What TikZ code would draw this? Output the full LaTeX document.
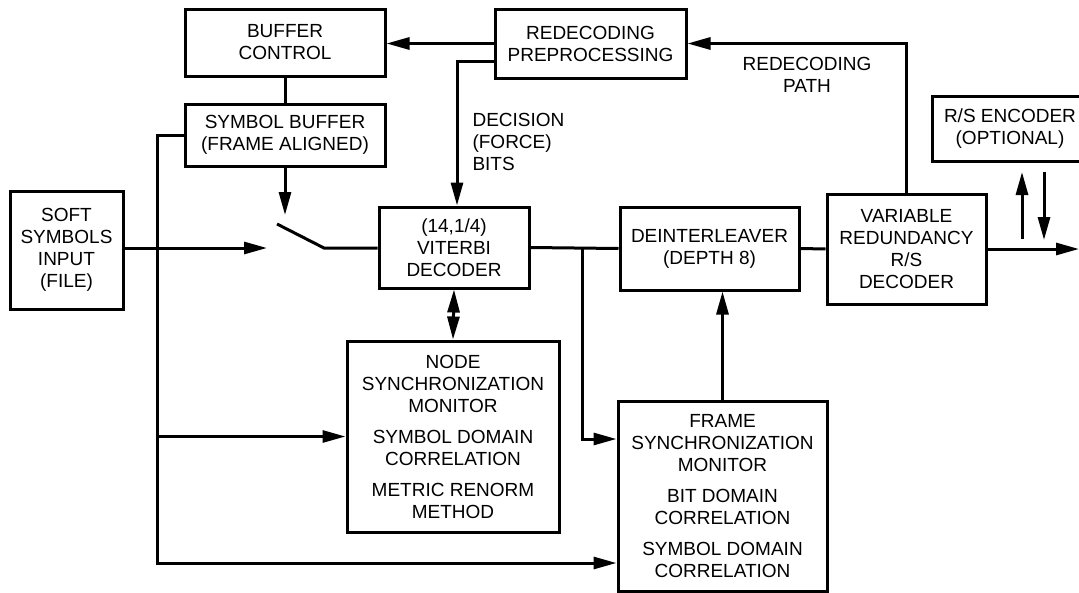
\documentclass[tikz,border=0pt]{standalone}
\usepackage{fontspec}
\setmainfont{Liberation Sans}
\usepackage{tikz}
\usetikzlibrary{calc,arrows.meta}
\newcommand{\labelsize}{\fontsize{19}{22}\selectfont}
\newcommand{\makeblock}[6]{
	\node[block, minimum width=#4pt, minimum height=#5pt] (#1) at (#2,#3) {#6};
}
\tikzset{
	block/.style={draw, line width=3pt, rectangle, align=center, inner sep=0pt, font=\labelsize},
	wire/.style={line width=3pt},
	arr/.style={wire, -{Triangle[length=23pt,width=12pt]}},
	dblarr/.style={wire, {Triangle[length=23pt,width=12pt]}-{Triangle[length=23pt,width=12pt]}}
}

\begin{document}
\begin{tikzpicture}[x=1pt,y=-1pt]
	\useasboundingbox (0,0) rectangle (1079,592);
	\clip (0,0) rectangle (1079,592);

	\makeblock{bufctl}{285}{42.5}{200}{67}{BUFFER\\CONTROL}
	\makeblock{redec}{590.5}{43.5}{191}{69}{REDECODING\\PREPROCESSING}
	\makeblock{symbuf}{285}{135}{200}{62}{SYMBOL BUFFER\\(FRAME ALIGNED)}
	\makeblock{soft}{66.5}{250}{113}{118}{SOFT\\SYMBOLS\\INPUT\\(FILE)}
	\makeblock{vit}{454}{247.5}{150}{81}{(14,1/4)\\VITERBI\\DECODER}
	\makeblock{nsync}{453}{436.5}{212}{191}{NODE\\SYNCHRONIZATION\\MONITOR\\[9pt]SYMBOL DOMAIN\\CORRELATION\\[9pt]METRIC RENORM\\METHOD}
	\makeblock{deint}{709.5}{248.5}{179}{83}{DEINTERLEAVER\\(DEPTH 8)}
	\makeblock{vr}{906.5}{249}{159}{110}{VARIABLE\\REDUNDANCY\\R/S\\DECODER}
	\makeblock{fsync}{722.5}{496}{209}{190}{FRAME\\SYNCHRONIZATION\\MONITOR\\[9pt]BIT DOMAIN\\CORRELATION\\[9pt]SYMBOL DOMAIN\\CORRELATION}
	\makeblock{rsenc}{1010}{128.5}{156}{65}{R/S ENCODER\\(OPTIONAL)}

	\node[font=\labelsize, align=left, anchor=west] (declabel) at (469,142) {DECISION\\(FORCE)\\BITS};
	\node[font=\labelsize, align=center] (pathlabel) at (807,75) {REDECODING\\PATH};

	\coordinate (swtop) at (285,215);
	\coordinate (swin) at (267,248);
	\coordinate (swa) at (277,224);
	\coordinate (swb) at (324,248);
	\coordinate (dec) at (457,61);
	\coordinate (busbot) at (157,563);
	\coordinate (br) at (582,439);
	\coordinate (out) at (1079,250);
	\coordinate (rsa) at (1022,239);
	\coordinate (rsb) at (1022,172);
	\coordinate (rsc) at (1044,172);
	\coordinate (rsd) at (1044,240);

	% switch and input side
	\draw[wire] (bufctl.south) -- (symbuf.north);
	\draw[arr] (symbuf.south) -- (swtop);
	\draw[arr] (soft.east |- swin) -- (swin);
	\draw[wire] (swa) -- (swb) -- (swb -| vit.west);
	\draw[arr] (symbuf.west) -| (busbot) -- (busbot -| fsync.west);
	\draw[arr] (busbot |- nsync.west) -- (nsync.west);

	% redecoding loop
	\draw[arr] (redec.west) -- (redec.west -| bufctl.east);
	\draw[arr] (redec.west |- dec) -- (dec) -- (dec |- vit.north);
	\draw[arr] (vr.north) |- (redec.east);

	% decoding chain
	\draw[dblarr] (vit.south) -- (nsync.north);
	\draw[wire] (vit.east) -- (deint.west);
	\draw[arr] (br |- vit.east) -- (br) -- (br -| fsync.west);
	\draw[arr] (fsync.north) -- (fsync.north |- deint.south);
	\draw[wire] (deint.east) -- (vr.west);
	\draw[arr] (vr.east) -- (vr.east -| out);
	\draw[arr] (rsa) -- (rsb);
	\draw[arr] (rsc) -- (rsd);
\end{tikzpicture}
\end{document}
